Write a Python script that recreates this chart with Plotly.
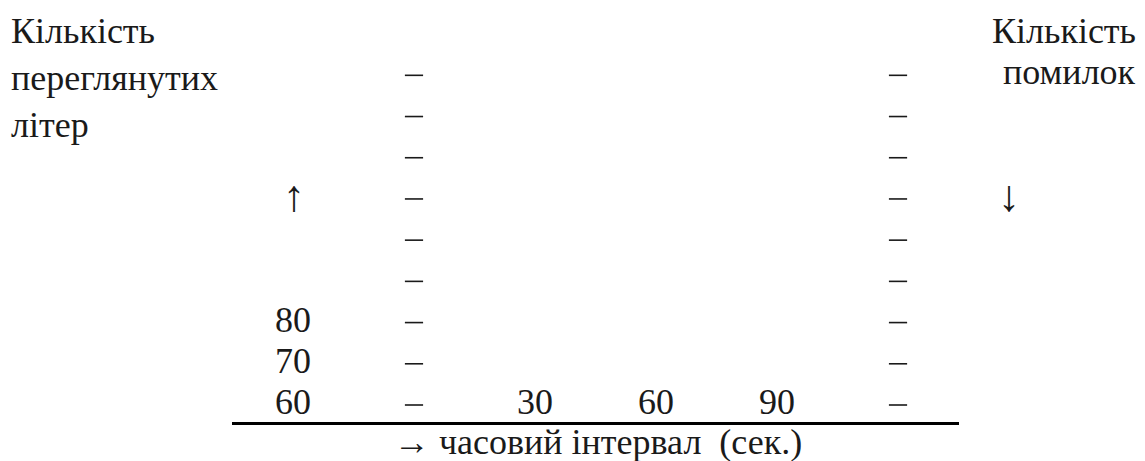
import plotly.graph_objects as go

# ---------------- data ----------------
time_ticks = [30, 60, 90]                 # часовий інтервал (сек.)
time_labels = ["30", "60", "90"]
letter_ticks = [60, 70, 80]               # кількість переглянутих літер
letter_labels = ["60", "70", "80"]
scale_rows = [60, 70, 80, 90, 100, 110, 120, 130, 140]   # rows of the dash scales

left_title = ["Кількість", "переглянутих", "літер"]
right_title = ["Кількість", "помилок"]
x_title = "→ часовий інтервал  (сек.)"

# ---------------- layout constants ----------------
W, H = 1145, 461
FONT = "'Liberation Serif', 'Times New Roman', Times, serif"
FS = 36
FS_ARROW = 44
TXT = "#1a1a1a"
LEFT_SCALE_X = 0        # time-axis position of the left dash column
RIGHT_SCALE_X = 120     # time-axis position of the right dash column
LABEL_COL_X = -30       # column of the 60/70/80 labels
BASE_ROW = 60           # row on which the time labels sit


def px_x(p):
    return p / W


def px_y(p):
    return 1 - p / H


fig = go.Figure()

dash_marker = dict(symbol="line-ew", size=13, color=TXT,
                   line=dict(width=1.6, color=TXT))

# left dash scale
fig.add_trace(go.Scatter(
    x=[LEFT_SCALE_X] * len(scale_rows), y=scale_rows, mode="markers",
    marker=dash_marker, cliponaxis=False, hoverinfo="skip", showlegend=False))

# right dash scale
fig.add_trace(go.Scatter(
    x=[RIGHT_SCALE_X] * len(scale_rows), y=scale_rows, mode="markers",
    marker=dash_marker, cliponaxis=False, hoverinfo="skip", showlegend=False))

# letter-count labels
fig.add_trace(go.Scatter(
    x=[LABEL_COL_X] * len(letter_ticks), y=letter_ticks, mode="text",
    text=letter_labels, textposition="middle center",
    textfont=dict(family=FONT, size=FS, color=TXT),
    cliponaxis=False, hoverinfo="skip", showlegend=False))

# time labels
fig.add_trace(go.Scatter(
    x=time_ticks, y=[BASE_ROW] * len(time_ticks), mode="text",
    text=time_labels, textposition="middle center",
    textfont=dict(family=FONT, size=FS, color=TXT),
    cliponaxis=False, hoverinfo="skip", showlegend=False))

annotations = []
# left title lines (baselines ~43, 90, 137 px)
for line, base in zip(left_title, [43, 90, 137]):
    annotations.append(dict(text=line, xref="paper", yref="paper",
                            x=px_x(9), y=px_y(base - 0.3375 * FS),
                            xanchor="left", yanchor="middle",
                            showarrow=False,
                            font=dict(family=FONT, size=FS, color=TXT)))
# right title lines
for line, base in zip(right_title, [43, 84]):
    annotations.append(dict(text=line, xref="paper", yref="paper",
                            x=px_x(1138), y=px_y(base - 0.3375 * FS),
                            xanchor="right", yanchor="middle",
                            showarrow=False,
                            font=dict(family=FONT, size=FS, color=TXT)))
# arrows
annotations.append(dict(text="↑", xref="paper", yref="paper",
                        x=px_x(294), y=px_y(196), xanchor="center",
                        yanchor="middle", showarrow=False,
                        font=dict(family=FONT, size=FS_ARROW, color=TXT)))
annotations.append(dict(text="↓", xref="paper", yref="paper",
                        x=px_x(1009), y=px_y(196), xanchor="center",
                        yanchor="middle", showarrow=False,
                        font=dict(family=FONT, size=FS_ARROW, color=TXT)))
# x title
annotations.append(dict(text=x_title, xref="paper", yref="paper",
                        x=px_x(598), y=px_y(442), xanchor="center",
                        yanchor="middle", showarrow=False,
                        font=dict(family=FONT, size=FS, color=TXT)))

fig.update_layout(
    width=W, height=H,
    margin=dict(l=0, r=0, t=0, b=0),
    paper_bgcolor="white", plot_bgcolor="white",
    showlegend=False,
    annotations=annotations,
    xaxis=dict(domain=[232 / W, 959 / W], range=[-45.12, 135.12],
               showgrid=False, zeroline=False, showticklabels=False,
               ticks="", showline=True, linewidth=3, linecolor="black"),
    yaxis=dict(domain=[39 / H, 1], range=[55.874, 158.277],
               showgrid=False, zeroline=False, showticklabels=False,
               ticks="", showline=False),
)

fig.write_html("out.html",
               config={"displayModeBar": False},
               post_script="document.body.style.margin='0';"
                           "document.body.style.overflow='hidden';")
